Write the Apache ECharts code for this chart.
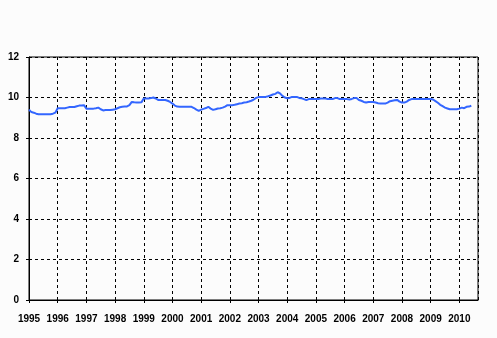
<!DOCTYPE html>
<html>
<head>
<meta charset="utf-8">
<script src="https://cdn.jsdelivr.net/npm/echarts@6/dist/echarts.min.js"></script>
<style>
html,body{margin:0;padding:0;background:#fcfcfc;}
#chart{width:497px;height:338px;}
</style>
</head>
<body>
<div id="chart"></div>
<script>
var startYear = 1995;
var yearTicks = [1995,1996,1997,1998,1999,2000,2001,2002,2003,2004,2005,2006,2007,2008,2009,2010];
var v1995 = [9.40,9.28,9.25,9.20,9.17,9.17,9.17,9.17,9.17,9.17,9.20,9.25];
var v1996 = [9.47,9.47,9.47,9.47,9.50,9.53,9.53,9.53,9.57,9.60,9.60,9.62];
var v1997 = [9.45,9.45,9.45,9.45,9.47,9.50,9.42,9.36,9.38,9.38,9.38,9.40];
var v1998 = [9.42,9.47,9.52,9.54,9.55,9.56,9.62,9.78,9.76,9.75,9.75,9.76];
var v1999 = [9.95,9.95,9.95,9.97,10.00,9.95,9.88,9.88,9.88,9.88,9.84,9.78];
var v2000 = [9.70,9.60,9.55,9.54,9.54,9.54,9.54,9.54,9.54,9.48,9.40,9.34];
var v2001 = [9.40,9.44,9.48,9.54,9.45,9.39,9.42,9.46,9.47,9.50,9.55,9.62];
var v2002 = [9.62,9.62,9.64,9.67,9.70,9.72,9.75,9.77,9.80,9.84,9.90,9.98];
var v2003 = [10.02,10.03,10.03,10.03,10.06,10.10,10.15,10.18,10.26,10.20,10.08,10.00];
var v2004 = [9.96,9.98,10.03,10.03,10.03,9.98,9.96,9.92,9.87,9.92,9.92,9.92];
var v2005 = [9.92,9.92,9.95,9.95,9.95,9.92,9.92,9.92,9.97,9.97,9.92,9.92];
var v2006 = [9.92,9.92,9.90,9.93,9.97,9.98,9.88,9.84,9.78,9.75,9.78,9.78];
var v2007 = [9.78,9.75,9.72,9.70,9.70,9.70,9.75,9.82,9.84,9.86,9.88,9.80];
var v2008 = [9.75,9.75,9.80,9.88,9.92,9.93,9.93,9.93,9.93,9.93,9.93,9.93];
var v2009 = [9.93,9.90,9.82,9.74,9.64,9.57,9.50,9.46,9.42,9.42,9.42,9.42];
var v2010 = [9.45,9.50,9.47,9.54,9.55,9.59];

var monthly = [].concat(v1995,v1996,v1997,v1998,v1999,v2000,v2001,v2002,v2003,v2004,v2005,v2006,v2007,v2008,v2009,v2010);
var seriesData = monthly.map(function(v,i){ return [startYear + i/12, v]; });

var chart = echarts.init(document.getElementById('chart'), null, {renderer:'canvas'});
var labelFont = {color:'#000', fontFamily:'"Liberation Sans", Arial, sans-serif', fontWeight:'bold', fontSize:10};
chart.setOption({
  backgroundColor:'#fcfcfc',
  animation:false,
  grid:{left:29, top:57, right:19, bottom:38, show:true, borderColor:'#000', borderWidth:1, backgroundColor:'transparent'},
  xAxis:{
    type:'value', min:1995, max:2010.65, interval:1,
    axisLine:{lineStyle:{color:'#000', width:1}},
    axisTick:{show:true, length:3, lineStyle:{color:'#000'}},
    splitLine:{show:true, lineStyle:{color:'#000', type:[3,3], width:1}},
    axisLabel:Object.assign({margin:14, showMaxLabel:false, formatter:function(v){ return yearTicks.indexOf(v)>=0 ? String(v) : ''; }}, labelFont)
  },
  yAxis:{
    type:'value', min:0, max:12, interval:2,
    axisLine:{show:true, lineStyle:{color:'#000', width:1}},
    axisTick:{show:true, length:3, lineStyle:{color:'#000'}},
    splitLine:{show:true, lineStyle:{color:'#000', type:[3,3], width:1}},
    axisLabel:Object.assign({margin:10}, labelFont)
  },
  series:[{
    type:'line', data:seriesData, showSymbol:false, symbol:'none',
    lineStyle:{color:'#3366ff', width:2}, z:5
  }]
});
</script>
</body>
</html>
